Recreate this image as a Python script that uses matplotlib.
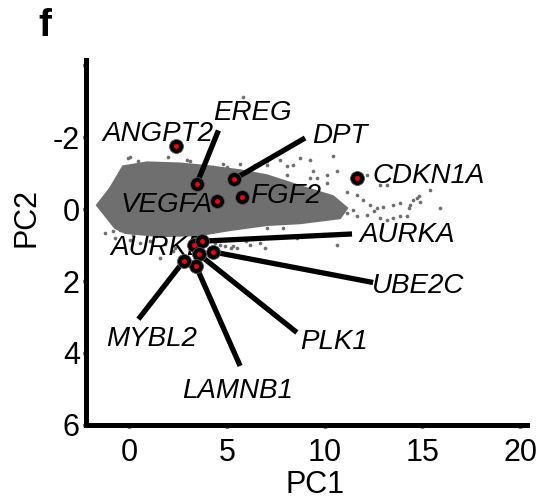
import matplotlib
matplotlib.use('Agg')
import matplotlib.pyplot as plt
from matplotlib.patches import Polygon

plt.rcParams['font.family'] = ['Liberation Sans', 'DejaVu Sans']

# labelled genes: position in PC space and where the name sits
genes = ['ANGPT2', 'EREG', 'DPT', 'VEGFA', 'FGF2', 'CDKN1A',
         'AURKB', 'AURKA', 'UBE2C', 'PLK1', 'LAMNB1', 'MYBL2']
pc1 = [2.4, 3.46, 5.39, 4.52, 5.76, 11.65, 3.34, 3.74, 4.31, 3.58, 3.43, 2.80]
pc2 = [-1.77, -0.70, -0.84, -0.23, -0.35, -0.88, 0.99, 0.89, 1.19, 1.26, 1.59, 1.44]
label_x = [1.48, 6.3, 10.8, 1.9, 8.0, 15.3, 1.48, 14.2, 14.8, 10.5, 5.55, 1.15]
label_y = [-2.1, -2.68, -2.04, -0.11, -0.36, -0.91, 1.08, 0.72, 2.15, 3.7, 5.06, 3.6]
# leader line ends (None = no leader)
line_x = [None, 4.57, 9.0, None, None, None, None, 11.4, 12.48, 8.58, 5.68, 0.48]
line_y = [None, -2.19, -1.98, None, None, None, None, 0.69, 2.04, 3.43, 4.36, 3.06]

# outline of the dense bulk of all other genes
cloud_pc1 = [-1.64, -0.97, -0.31, 0.92, 2.61, 4.14, 5.68, 7.06, 8.75, 10.43, 11.15,
             10.79, 8.75, 7.06, 5.17, 3.63, 1.59, -0.2, -0.72]
cloud_pc2 = [-0.11, -0.58, -1.19, -1.30, -1.27, -1.19, -1.08, -0.94, -0.64, -0.36, -0.03,
             0.25, 0.39, 0.44, 0.58, 0.72, 0.75, 0.66, 0.52]

# scattered genes outside the dense bulk
sparse_pc1 = [5.83, 0.05, 0.56, 2.0, 2.95, 5.0, 5.68, 6.45, 7.04, 7.72, 8.39, 8.75,
              9.26, 10.45, 10.62, 8.07, 9.26, 9.6, 10.11, 11.14, 11.65, 11.98, 12.33,
              12.67, 13.0, 13.52, 13.86, 14.37, 14.72, 14.88, 15.4, 15.9, 12.16, 12.84,
              12.84, 13.18, 13.52, 13.86, 14.2, 11.65, 12.16, 12.5, 11.14, 11.47, 10.62,
              8.58, 9.6, 7.89, 7.04, 5.34, -1.23, -0.72, 0.05, 0.56, 1.07, 1.84, 2.35,
              4.4, 4.9, 6.19, 6.96,
              -0.05, 0.46, 3.1, 4.3, 4.8, 6.3, 7.05, 8.1, 9.4, 10.1,
              -0.8, -0.46, 0.2, 0.9, 1.4, 1.95, 1.6, 2.25, 4.65, 5.2, 5.5, 6.0, 6.7,
              13.2, 14.3, 14.5, 14.8]
sparse_pc2 = [-3.12, -1.46, -1.13, -1.46, -1.36, -1.18, -1.27, -1.22, -1.22, -1.36, -1.22, -1.41,
              -1.36, -1.48, -1.06, -0.95, -0.86, -0.86, -0.72, -0.49, -0.40, -0.26, -0.12,
              -0.03, -0.07, -0.12, -0.17, -0.12, -0.30, -0.21, -0.53, -0.03, -0.95, -0.67,
              0.25, 0.30, 0.25, 0.20, 0.20, 0.20, 0.16, 0.06, 0.11, 0.02, 0.99,
              0.80, 0.71, 0.52, 0.52, 1.03, 0.66, 0.80, 0.86, 0.94, 0.88, 0.97, 1.08,
              0.94, 1.02, 0.99, 1.08,
              -1.41, -1.33, -1.33, -1.16, -1.27, -1.13, -1.33, -1.19, -1.05, -0.94,
              0.61, 0.58, 0.72, 0.61, 0.75, 0.66, 1.35, 1.16, 0.99, 1.08, 1.08, 0.88, 0.94,
              -0.67, -0.03, -0.25, -0.36]

xticks = [0, 5, 10, 15, 20]
yticks = [-4, -2, 0, 2, 4, 6]
ytick_labels = ['', '-2', '0', '2', '4', '6']

gray = '#6f6f6f'

fig = plt.figure(figsize=(5.55, 5.04), dpi=100)
ax = fig.add_axes([0.155, 0.157, 0.795, 0.724])

ax.add_patch(Polygon(list(zip(cloud_pc1, cloud_pc2)), closed=True,
                     facecolor=gray, edgecolor=gray, linewidth=1.5, zorder=1))
ax.scatter(sparse_pc1, sparse_pc2, s=7, color=gray, linewidths=0, zorder=1)

for g, x, y, tx, ty, lx, ly in zip(genes, pc1, pc2, label_x, label_y, line_x, line_y):
    if lx is not None:
        ax.plot([x, lx], [y, ly], color='black', linewidth=3.8,
                solid_capstyle='butt', zorder=2)
    ax.text(tx, ty, g, fontsize=20, style='italic', ha='center', va='center', zorder=3)

ax.plot(pc1, pc2, 'o', markersize=10, markerfacecolor='black',
        markeredgecolor='#555555', markeredgewidth=0.6, linestyle='none', zorder=4)
ax.plot(pc1, pc2, 'o', markersize=3.5, color='red', markeredgewidth=0,
        linestyle='none', zorder=5)

ax.set_xlim(-2.2, 20.36)
ax.set_ylim(6, -4.15)
ax.set_xticks(xticks)
ax.set_yticks(yticks)
ax.set_yticklabels(ytick_labels)

for side in ['top', 'right']:
    ax.spines[side].set_visible(False)
for side in ['left', 'bottom']:
    ax.spines[side].set_linewidth(3.6)
ax.tick_params(axis='both', direction='out', length=2.5, width=2.5, labelsize=22)
ax.tick_params(axis='x', pad=7)
ax.tick_params(axis='y', pad=2)

ax.set_xlabel('PC1', fontsize=22)
ax.set_ylabel('PC2', fontsize=22)
ax.xaxis.set_label_coords(0.52, -0.125)
ax.yaxis.set_label_coords(-0.10, 0.567)

fig.text(0.07, 0.985, 'f', fontsize=28, fontweight='bold', ha='left', va='top')

fig.savefig('out.png', dpi=100)
